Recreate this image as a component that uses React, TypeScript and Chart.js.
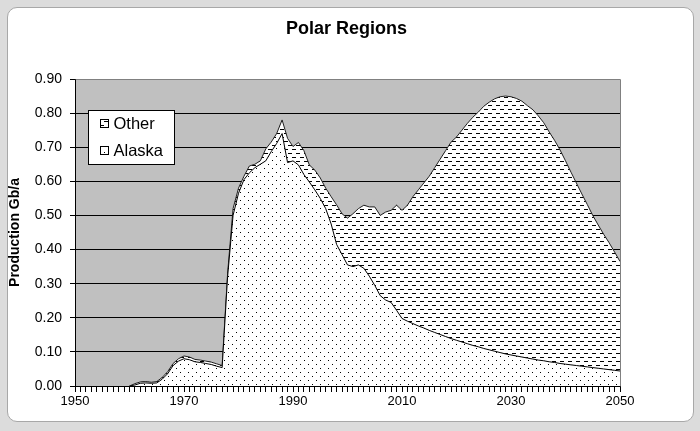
import { useEffect, useRef } from 'react';
import { Chart, registerables } from 'chart.js';

Chart.register(...registerables);

// Production in Gb/a, one value per year
const years = [
  1960, 1961, 1962, 1963, 1964, 1965, 1966, 1967, 1968, 1969,
  1970, 1971, 1972, 1973, 1974, 1975, 1976, 1977, 1978, 1979,
  1980, 1981, 1982, 1983, 1984, 1985, 1986, 1987, 1988, 1989,
  1990, 1991, 1992, 1993, 1994, 1995, 1996, 1997, 1998, 1999,
  2000, 2001, 2002, 2003, 2004, 2005, 2006, 2007, 2008, 2009,
  2010, 2011, 2012, 2013, 2014, 2015, 2016, 2017, 2018, 2019,
  2020, 2021, 2022, 2023, 2024, 2025, 2026, 2027, 2028, 2029,
  2030, 2031, 2032, 2033, 2034, 2035, 2036, 2037, 2038, 2039,
  2040, 2041, 2042, 2043, 2044, 2045, 2046, 2047, 2048, 2049,
  2050,
];

const alaska = [
  0, 0.003, 0.008, 0.009, 0.008, 0.009, 0.02, 0.036, 0.06, 0.073,
  0.08, 0.077, 0.071, 0.069, 0.066, 0.063, 0.058, 0.054, 0.32, 0.5,
  0.565, 0.605, 0.625, 0.64, 0.65, 0.66, 0.687, 0.711, 0.74, 0.655,
  0.66, 0.648, 0.62, 0.598, 0.575, 0.55, 0.52, 0.475, 0.415, 0.385,
  0.355, 0.35, 0.355, 0.345, 0.322, 0.295, 0.265, 0.252, 0.245, 0.222,
  0.198, 0.19, 0.183, 0.176, 0.17, 0.163, 0.157, 0.151, 0.145, 0.139,
  0.134, 0.129, 0.124, 0.119, 0.115, 0.11, 0.106, 0.102, 0.098, 0.094,
  0.091, 0.088, 0.085, 0.082, 0.079, 0.076, 0.074, 0.071, 0.069, 0.066,
  0.064, 0.062, 0.06, 0.058, 0.056, 0.054, 0.052, 0.05, 0.048, 0.046,
  0.044,
];

// top edge of the "Other" band (Alaska + Other)
const total = [
  0, 0.007, 0.012, 0.013, 0.011, 0.013, 0.025, 0.042, 0.066, 0.08,
  0.088, 0.085, 0.078, 0.076, 0.073, 0.07, 0.065, 0.06, 0.33, 0.52,
  0.58, 0.615, 0.645, 0.65, 0.66, 0.695, 0.715, 0.74, 0.78, 0.726,
  0.702, 0.714, 0.69, 0.648, 0.633, 0.61, 0.58, 0.555, 0.531, 0.505,
  0.492, 0.505, 0.52, 0.53, 0.525, 0.525, 0.5, 0.51, 0.515, 0.53,
  0.515, 0.53, 0.555, 0.575, 0.595, 0.615, 0.64, 0.665, 0.69, 0.715,
  0.73, 0.75, 0.77, 0.788, 0.803, 0.82, 0.832, 0.842, 0.848, 0.85,
  0.848, 0.843, 0.835, 0.822, 0.81, 0.792, 0.772, 0.745, 0.72, 0.692,
  0.66, 0.627, 0.595, 0.563, 0.532, 0.5, 0.472, 0.445, 0.42, 0.393,
  0.365,
];

const xLabels = [1950, 1970, 1990, 2010, 2030, 2050];

const FONT = "'Liberation Sans', Arial, sans-serif";

function makePattern(ctx: CanvasRenderingContext2D, kind: 'dots' | 'dashes') {
  const c = document.createElement('canvas');
  c.width = 8;
  c.height = 8;
  const g = c.getContext('2d')!;
  g.fillStyle = '#fff';
  g.fillRect(0, 0, 8, 8);
  g.fillStyle = '#000';
  if (kind === 'dots') {
    g.fillRect(0, 0, 1, 1);
    g.fillRect(4, 4, 1, 1);
  } else {
    g.fillRect(0, 1, 4, 1);
    g.fillRect(4, 5, 4, 1);
  }
  return ctx.createPattern(c, 'repeat')!;
}

export default function App() {
  const chartRef = useRef<HTMLCanvasElement>(null);
  const chartInstance = useRef<Chart | null>(null);

  useEffect(() => {
    if (!chartRef.current) return;
    const ctx = chartRef.current.getContext('2d');
    if (!ctx) return;

    if (chartInstance.current) {
      chartInstance.current.destroy();
    }

    const dots = makePattern(ctx, 'dots');
    const dashes = makePattern(ctx, 'dashes');

    const framePlugin = {
      id: 'frame',
      beforeDraw(chart: any) {
        const { ctx: c, chartArea: a } = chart;
        c.save();
        c.fillStyle = '#c0c0c0';
        c.fillRect(a.left, a.top, a.right - a.left, a.bottom - a.top);
        c.restore();
      },
      afterDatasetsDraw(chart: any) {
        const { ctx: c, chartArea: a } = chart;
        const l = Math.round(a.left) + 0.5;
        const r = Math.round(a.right) + 0.5;
        const t = Math.round(a.top) + 0.5;
        const b = Math.round(a.bottom) + 0.5;
        c.save();
        c.lineWidth = 1;
        c.strokeStyle = '#808080';
        c.beginPath();
        c.moveTo(l, t);
        c.lineTo(r, t);
        c.lineTo(r, b);
        c.stroke();
        c.strokeStyle = '#000';
        c.beginPath();
        c.moveTo(l, t);
        c.lineTo(l, b);
        c.lineTo(r, b);
        c.stroke();
        c.restore();
      },
      afterDraw(chart: any) {
        const { ctx: c, chartArea: a } = chart;
        c.save();
        // title
        c.fillStyle = '#000';
        c.font = `bold 18px ${FONT}`;
        c.textAlign = 'center';
        c.textBaseline = 'middle';
        c.fillText('Polar Regions', (a.left + a.right) / 2 - 1, 29);

        // legend
        const bx = Math.round(a.left) + 13.5;
        const by = Math.round(a.top) + 31.5;
        c.fillStyle = '#fff';
        c.fillRect(bx, by, 86, 54);
        c.strokeStyle = '#000';
        c.lineWidth = 1;
        c.strokeRect(bx, by, 86, 54);
        const items = [
          { label: 'Other', fill: dashes, y: by + 13 },
          { label: 'Alaska', fill: dots, y: by + 40 },
        ];
        c.font = `16.5px ${FONT}`;
        c.textAlign = 'left';
        items.forEach(it => {
          c.fillStyle = it.fill;
          c.fillRect(bx + 12, it.y - 4, 8, 8);
          c.strokeStyle = '#000';
          c.strokeRect(bx + 12, it.y - 4, 8, 8);
          c.fillStyle = '#000';
          c.fillText(it.label, bx + 25, it.y + 1);
        });
        c.restore();
      },
    };

    chartInstance.current = new Chart(ctx, {
      type: 'line',
      data: {
        datasets: [
          {
            label: 'Alaska',
            data: years.map((x, i) => ({ x, y: alaska[i] })),
            backgroundColor: dots,
            borderColor: '#000',
            borderWidth: 1,
            fill: 'origin',
            pointRadius: 0,
            tension: 0,
          },
          {
            label: 'Other',
            data: years.map((x, i) => ({ x, y: total[i] })),
            backgroundColor: dashes,
            borderColor: '#202020',
            borderWidth: 1,
            fill: '-1',
            pointRadius: 0,
            tension: 0,
          },
        ],
      },
      options: {
        responsive: false,
        animation: false,
        devicePixelRatio: 1,
        events: [],
        layout: {
          padding: { left: 0, top: 79, right: 80, bottom: 0 },
        },
        plugins: {
          legend: { display: false },
          tooltip: { enabled: false },
          title: { display: false },
        },
        scales: {
          x: {
            type: 'linear',
            min: 1950,
            max: 2050,
            afterFit: (scale: any) => {
              scale.height = 45;
            },
            ticks: {
              stepSize: 1,
              autoSkip: false,
              maxRotation: 0,
              minRotation: 0,
              padding: 2,
              color: '#000',
              font: { family: FONT, size: 13 },
              callback: (v: any) => (xLabels.includes(Number(v)) ? String(v) : ''),
            },
            grid: {
              drawOnChartArea: false,
              drawTicks: true,
              tickLength: 6,
              color: '#000',
            },
            border: { display: true, color: '#000' },
          },
          y: {
            min: 0,
            max: 0.9,
            afterFit: (scale: any) => {
              scale.width = 75;
            },
            ticks: {
              stepSize: 0.1,
              padding: 8,
              color: '#000',
              font: { family: FONT, size: 14 },
              callback: (v: any) => Number(v).toFixed(2),
            },
            grid: {
              color: '#000',
              tickLength: 5,
              lineWidth: 1,
            },
            border: { display: true, color: '#000' },
            title: {
              display: true,
              text: 'Production Gb/a',
              color: '#000',
              font: { family: FONT, size: 14, weight: 'bold' },
              padding: { top: 7, bottom: 0 },
            },
          },
        },
      },
      plugins: [framePlugin],
    });

    return () => {
      if (chartInstance.current) {
        chartInstance.current.destroy();
        chartInstance.current = null;
      }
    };
  }, []);

  return (
    <div
      style={{
        position: 'fixed',
        left: 0,
        top: 0,
        width: 700,
        height: 431,
        background: '#dcdcdc',
        overflow: 'hidden',
      }}
    >
      <div
        style={{
          position: 'absolute',
          left: 7,
          top: 7,
          width: 687,
          height: 415,
          boxSizing: 'border-box',
          background: '#fff',
          border: '1px solid #a8a8a8',
          borderRadius: 10,
        }}
      />
      <canvas
        ref={chartRef}
        width={700}
        height={431}
        style={{ position: 'absolute', left: 0, top: 0, width: 700, height: 431 }}
      />
    </div>
  );
}
